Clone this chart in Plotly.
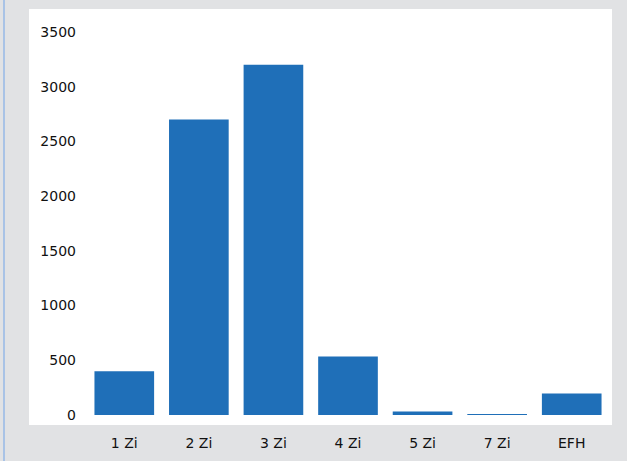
import plotly.graph_objects as go

categories = ["1 Zi", "2 Zi", "3 Zi", "4 Zi", "5 Zi", "7 Zi", "EFH"]
values = [400, 2700, 3200, 535, 32, 8, 197]
y_ticks = [0, 500, 1000, 1500, 2000, 2500, 3000, 3500]

W, H = 627, 461
ML, MR, MT, MB = 87, 18, 32, 46
PW, PH = W - ML - MR, H - MT - MB


def px_x(x):
    return (x - ML) / PW


def px_y(y):
    return (H - MB - y) / PH


fig = go.Figure(
    go.Bar(x=categories, y=values, marker=dict(color="#1f6fb8", line=dict(width=0)))
)

fig.update_layout(
    width=W,
    height=H,
    margin=dict(l=ML, r=MR, t=MT, b=MB, pad=0, autoexpand=False),
    paper_bgcolor="#e1e2e4",
    plot_bgcolor="white",
    bargap=0.2,
    showlegend=False,
    font=dict(family="DejaVu Sans, sans-serif", size=14, color="#111111"),
    shapes=[
        dict(type="rect", xref="paper", yref="paper", layer="below",
             x0=px_x(29), x1=px_x(612), y0=px_y(425), y1=px_y(9),
             fillcolor="white", line=dict(width=0)),
        dict(type="line", xref="paper", yref="paper",
             x0=px_x(4), x1=px_x(4), y0=px_y(461), y1=px_y(0),
             line=dict(color="#a9c3e6", width=2)),
    ],
)

fig.update_xaxes(showgrid=False, zeroline=False, showline=False, ticks="",
                 ticklabelstandoff=18, automargin=False)
fig.update_yaxes(range=[0, 3500], tickvals=y_ticks, showgrid=False, zeroline=False,
                 showline=False, ticks="", ticklabelstandoff=10, automargin=False)

fig.write_html("out.html")
